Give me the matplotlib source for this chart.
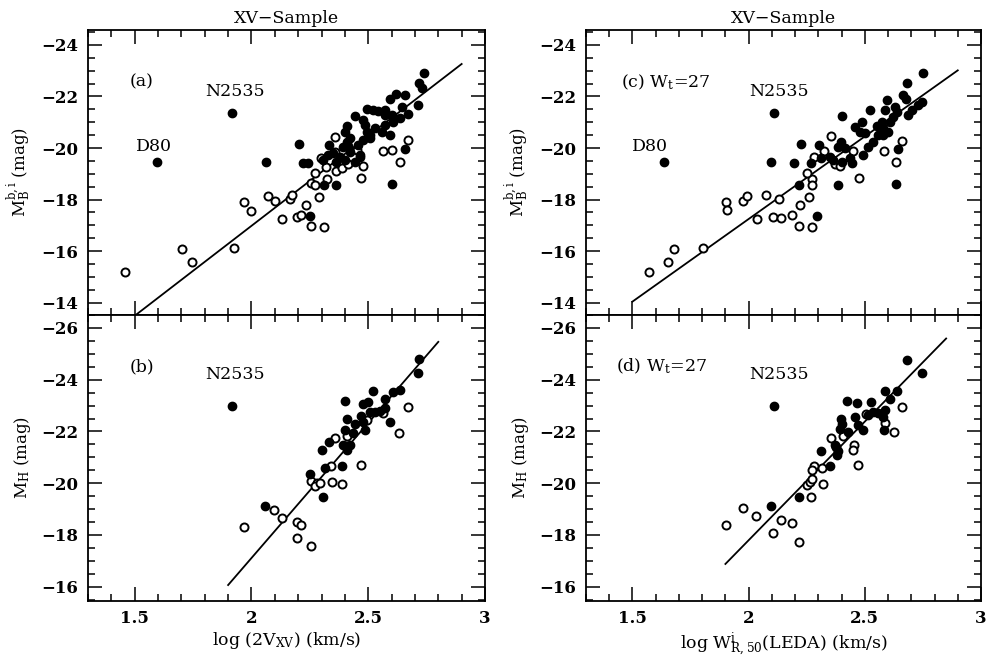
import matplotlib
matplotlib.use("Agg")
import matplotlib.pyplot as plt
from matplotlib.ticker import MultipleLocator
import numpy as np

plt.rcParams['font.family'] = ['DejaVu Serif']
plt.rcParams['mathtext.fontset'] = 'dejavuserif'

# ---- panel (a): log(2V_XV) vs M_B (b,i) ----
a_fill_x = [1.916, 1.594, 2.204, 2.061, 2.221, 2.240, 2.311, 2.364, 2.251, 2.603, 2.657, 2.333,
            2.443, 2.407, 2.400, 2.479, 2.486, 2.493, 2.507, 2.464, 2.421, 2.414,
            2.740, 2.719, 2.730, 2.711, 2.657, 2.621, 2.593, 2.571, 2.543, 2.521, 2.493,
            2.643, 2.671, 2.636, 2.607, 2.571, 2.557, 2.593, 2.529, 2.507, 2.479, 2.457,
            2.407, 2.393, 2.421, 2.379, 2.350, 2.329, 2.307, 2.400, 2.443, 2.464, 2.364, 2.571, 2.600]
a_fill_y = [-21.37, -19.47, -20.17, -19.47, -19.42, -19.42, -18.55, -18.55, -17.38, -18.62, -19.96, -20.12,
            -21.26, -20.86, -20.64, -21.08, -20.89, -20.64, -20.38, -19.73, -20.38, -20.06,
            -22.93, -22.54, -22.32, -21.67, -22.06, -22.09, -21.89, -21.48, -21.44, -21.48, -21.52,
            -21.61, -21.31, -21.15, -21.02, -20.89, -20.64, -20.51, -20.77, -20.51, -20.31, -20.12,
            -20.25, -20.05, -19.86, -19.67, -19.80, -19.73, -19.54, -19.54, -19.47, -19.67, -19.47, -21.28, -21.28]
a_open_x = [1.457, 1.704, 1.746, 1.924, 1.969, 2.000, 2.071, 2.099, 2.130, 2.164, 2.174, 2.196, 2.211,
            2.234, 2.257, 2.311, 2.289, 2.257, 2.271, 2.271, 2.319, 2.324, 2.296, 2.364, 2.386,
            2.357, 2.357, 2.414, 2.476, 2.469, 2.564, 2.600, 2.636, 2.669, 2.450]
a_open_y = [-15.20, -16.08, -15.59, -16.11, -17.92, -17.57, -18.14, -17.96, -17.23, -18.04, -18.17, -17.31, -17.40,
            -17.79, -16.98, -16.92, -18.10, -18.63, -18.57, -19.02, -19.26, -18.80, -19.60, -19.12, -19.21,
            -19.86, -20.44, -19.37, -19.32, -18.82, -19.89, -19.92, -19.45, -20.31, -19.92]
a_fit = (-20.47, -6.98, 1.5, 2.9)   # zero point at log=2.5, slope, x range

# ---- panel (b): log(2V_XV) vs M_H ----
b_fill_x = [1.916, 2.060, 2.307, 2.250, 2.300, 2.333, 2.314, 2.386, 2.400, 2.407, 2.400, 2.393,
            2.410, 2.405, 2.420, 2.443, 2.436, 2.479, 2.500, 2.471, 2.479, 2.486, 2.521, 2.507,
            2.529, 2.550, 2.571, 2.571, 2.593, 2.607, 2.636, 2.711, 2.719]
b_fill_y = [-23.00, -19.12, -19.45, -20.36, -21.29, -21.58, -20.58, -20.67, -23.18, -22.48, -22.06, -21.48,
            -21.30, -21.42, -21.48, -22.29, -21.93, -23.06, -23.15, -22.60, -22.38, -22.06, -23.58, -22.77,
            -22.77, -22.79, -23.24, -22.89, -22.38, -23.54, -23.60, -24.25, -24.80]
b_open_x = [1.969, 2.097, 2.130, 2.193, 2.211, 2.193, 2.257, 2.257, 2.281, 2.271, 2.293, 2.343, 2.386,
            2.339, 2.357, 2.407, 2.467, 2.493, 2.564, 2.633, 2.669]
b_open_y = [-18.31, -18.96, -18.66, -18.50, -18.40, -17.89, -17.57, -20.10, -20.02, -19.89, -20.00, -20.06, -19.97,
            -20.67, -21.73, -21.82, -20.70, -22.44, -22.70, -21.95, -22.96]
b_fit = (-22.33, -10.44, 1.9, 2.8)

# ---- panel (c): log W(LEDA) vs M_B (b,i) ----
c_fill_x = [2.109, 1.636, 2.224, 2.095, 2.197, 2.268, 2.304, 2.310, 2.218, 2.296, 2.386, 2.634, 2.644,
            2.400, 2.522, 2.486, 2.458, 2.479, 2.501, 2.396, 2.386, 2.415, 2.350, 2.365, 2.400, 2.436, 2.443,
            2.494, 2.515, 2.536, 2.558, 2.580, 2.587, 2.594, 2.630, 2.637, 2.623, 2.608, 2.580, 2.601,
            2.666, 2.677, 2.680, 2.752, 2.730, 2.744, 2.701, 2.687, 2.573, 2.551]
c_fill_y = [-21.37, -19.47, -20.17, -19.47, -19.43, -19.41, -20.12, -19.63, -18.57, -17.38, -18.55, -18.62, -19.96,
            -21.26, -21.48, -21.02, -20.83, -20.64, -20.57, -20.25, -20.05, -19.99, -19.67, -19.54, -19.47, -19.60, -19.41,
            -19.73, -20.05, -20.25, -20.51, -20.51, -21.48, -21.87, -21.61, -21.41, -21.22, -21.02, -20.76, -20.64,
            -22.06, -21.90, -22.54, -22.90, -21.67, -21.80, -21.48, -21.28, -21.02, -20.86]
c_open_x = [1.571, 1.654, 1.679, 1.802, 1.903, 1.908, 1.974, 1.992, 2.035, 2.075, 2.105, 2.138, 2.132,
            2.188, 2.221, 2.218, 2.271, 2.261, 2.274, 2.271, 2.253, 2.283, 2.326, 2.353, 2.372, 2.393,
            2.448, 2.475, 2.584, 2.633, 2.659]
c_open_y = [-15.20, -15.59, -16.08, -16.11, -17.92, -17.58, -17.96, -18.13, -17.23, -18.17, -17.34, -17.27, -18.04,
            -17.40, -17.79, -16.98, -16.92, -18.09, -18.80, -18.57, -19.02, -19.67, -19.90, -20.46, -19.37, -19.32,
            -19.89, -18.82, -19.89, -19.45, -20.27]
c_fit = (-14.04, -6.41, 1.5, 2.9)   # zero point at log=1.5

# ---- panel (d): log W(LEDA) vs M_H ----
d_fill_x = [2.109, 2.095, 2.217, 2.350, 2.310, 2.382, 2.386, 2.372, 2.396, 2.400, 2.393, 2.422, 2.429,
            2.465, 2.458, 2.472, 2.494, 2.527, 2.515, 2.536, 2.558, 2.580, 2.587, 2.584, 2.587, 2.608,
            2.637, 2.680, 2.745]
d_fill_y = [-23.00, -19.13, -19.48, -20.67, -21.26, -21.08, -21.23, -21.47, -22.48, -22.29, -22.08, -23.18, -21.99,
            -23.09, -22.57, -22.25, -22.06, -23.14, -22.63, -22.77, -22.70, -22.57, -22.83, -22.07, -23.58, -23.25,
            -23.58, -24.76, -24.25]
d_open_x = [1.901, 1.974, 2.032, 2.105, 2.138, 2.185, 2.217, 2.268, 2.253, 2.264, 2.274, 2.283, 2.274,
            2.314, 2.321, 2.355, 2.375, 2.405, 2.455, 2.448, 2.472, 2.504, 2.587, 2.627, 2.659]
d_open_y = [-18.38, -19.03, -18.73, -18.08, -18.58, -18.47, -17.74, -19.48, -19.92, -20.06, -20.15, -20.67, -20.52,
            -20.58, -19.97, -21.73, -21.41, -21.82, -21.48, -21.28, -20.70, -22.68, -22.32, -21.96, -22.96]
d_fit = (-16.88, -9.17, 1.9, 2.85)  # zero point at log=1.9

fit_x0 = {'a': 2.5, 'b': 2.5, 'c': 1.5, 'd': 1.9}

titles = ['XV\u2212Sample', 'XV\u2212Sample']
ylab_top = r'M$_{\rm B}^{\rm b,i}$ (mag)'
ylab_bot = r'M$_{\rm H}$ (mag)'
xlab_left = r'log (2V$_{\rm XV}$) (km/s)'
xlab_right = r'log W$^{\rm i}_{\rm R,50}$(LEDA) (km/s)'

fig = plt.figure(figsize=(9.9, 6.64), dpi=100)
ax_a = fig.add_axes([0.0889, 0.5256, 0.401, 0.4292])
ax_b = fig.add_axes([0.0889, 0.0953, 0.401, 0.4303])
ax_c = fig.add_axes([0.5919, 0.5256, 0.399, 0.4292])
ax_d = fig.add_axes([0.5919, 0.0953, 0.399, 0.4303])

panels = [
    (ax_a, 'a', a_fill_x, a_fill_y, a_open_x, a_open_y, a_fit),
    (ax_b, 'b', b_fill_x, b_fill_y, b_open_x, b_open_y, b_fit),
    (ax_c, 'c', c_fill_x, c_fill_y, c_open_x, c_open_y, c_fit),
    (ax_d, 'd', d_fill_x, d_fill_y, d_open_x, d_open_y, d_fit),
]

for ax, key, fx, fy, ox, oy, fit in panels:
    zp, slope, xlo, xhi = fit
    xl = np.array([xlo, xhi])
    ax.plot(xl, zp + slope * (xl - fit_x0[key]), color='black', lw=1.3, zorder=1)
    ax.plot(ox, oy, 'o', ms=5.8, mfc='white', mec='black', mew=1.4, zorder=2)
    ax.plot(fx, fy, 'o', ms=6, mfc='black', mec='black', zorder=3)
    ax.set_xlim(1.3, 3.0)
    ax.xaxis.set_major_locator(MultipleLocator(0.5))
    ax.xaxis.set_minor_locator(MultipleLocator(0.1))
    ax.yaxis.set_major_locator(MultipleLocator(2))
    ax.yaxis.set_minor_locator(MultipleLocator(0.5))
    ax.tick_params(which='both', direction='in', top=True, right=True, width=1.1)
    ax.tick_params(which='major', length=10, labelsize=12, pad=7)
    ax.tick_params(which='minor', length=5)
    for s in ax.spines.values():
        s.set_linewidth(1.3)
    for lab in ax.get_xticklabels() + ax.get_yticklabels():
        lab.set_fontweight('bold')
    ax.xaxis.set_major_formatter(plt.FuncFormatter(lambda v, p: '%g' % v))
    ax.yaxis.set_major_formatter(plt.FuncFormatter(lambda v, p: '\u2212%g' % -v if v < 0 else '%g' % v))

for ax in (ax_a, ax_c):
    ax.set_ylim(-13.52, -24.58)
    ax.tick_params(labelbottom=False)
    ax.set_ylabel(ylab_top, fontsize=12, labelpad=6)
for ax in (ax_b, ax_d):
    ax.set_ylim(-15.46, -26.5)
    ax.set_ylabel(ylab_bot, fontsize=12, labelpad=6)

ax_a.set_title(titles[0], fontsize=12.5, pad=5)
ax_c.set_title(titles[1], fontsize=12.5, pad=5)
ax_b.set_xlabel(xlab_left, fontsize=12.5, labelpad=2)
ax_d.set_xlabel(xlab_right, fontsize=12.5, labelpad=2)

tk = dict(fontsize=12.5, ha='center', va='center')
tl = dict(fontsize=12.5, ha='left', va='center')
ax_a.text(1.53, -22.55, '(a)', **tk)
ax_a.text(1.929, -22.19, 'N2535', **tk)
ax_a.text(1.581, -20.05, 'D80', **tk)
ax_b.text(1.53, -24.5, '(b)', **tk)
ax_b.text(1.929, -24.2, 'N2535', **tk)
ax_c.text(1.45, -22.55, r'(c) W$_{\rm t}$=27', **tl)
ax_c.text(2.131, -22.19, 'N2535', **tk)
ax_c.text(1.575, -20.05, 'D80', **tk)
ax_d.text(1.43, -24.5, r'(d) W$_{\rm t}$=27', **tl)
ax_d.text(2.131, -24.2, 'N2535', **tk)

fig.savefig('out.png', dpi=100)
